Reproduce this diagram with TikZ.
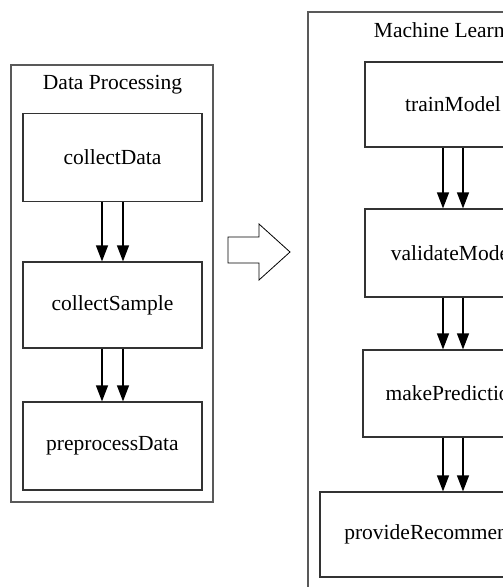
\documentclass[tikz,border=0pt]{standalone}
\usepackage{fontspec}
\setmainfont{Liberation Serif}
\usetikzlibrary{arrows.meta}

\tikzset{
  stepbox/.style={draw=black!80, line width=1.2pt, minimum width=179pt, minimum height=88pt,
    font=\fontsize{21.5}{26}\selectfont},
  group/.style={draw=black!65, line width=1.6pt},
  grouptitle/.style={font=\fontsize{21.5}{26}\selectfont},
  flow/.style={line width=1.2pt, -{Triangle[length=16pt,width=12pt]}}
}

\begin{document}
\begin{tikzpicture}[x=1pt,y=-1pt]
\useasboundingbox (0,0) rectangle (503,587);
\clip (0,0) rectangle (503,587);
\fill[white] (0,0) rectangle (503,587);

% data processing
\draw[group] (11,65) rectangle (213,502);
\node[grouptitle] (dptitle) at (112.5,85) {Data Processing};
\node[stepbox] (collect) at (112.5,157.5) {collectData};
\node[stepbox, minimum height=86pt] (sample) at (112.5,305) {collectSample};
\node[stepbox] (prep) at (112.5,446) {preprocessData};
\foreach \s in {-10.5,10.5} {
  \draw[flow] ([xshift=\s pt]collect.south) -- ([xshift=\s pt]sample.north);
  \draw[flow] ([xshift=\s pt]sample.south) -- ([xshift=\s pt]prep.north);
}

% hollow arrow between the two groups
\draw[line width=0.8pt, fill=white] (228,237) -- (259,237) -- (259,224) -- (290,252)
  -- (259,280) -- (259,263) -- (228,263) -- cycle;

% machine learning
\draw[group] (308,12) rectangle (598,620);
\node[grouptitle] (mltitle) at (453,32) {Machine Learning};
\node[stepbox, minimum width=176pt, minimum height=85pt] (train) at (453,104.5) {trainModel};
\node[stepbox, minimum width=176pt] (valid) at (453,253) {validateModel};
\node[stepbox, minimum width=180pt, minimum height=87pt] (predict) at (453,393.5) {makePrediction};
\node[stepbox, minimum width=266pt, minimum height=85pt] (recommend) at (453,534.5) {provideRecommendation};
\foreach \s in {-10,10} {
  \draw[flow] ([xshift=\s pt]train.south) -- ([xshift=\s pt]valid.north);
  \draw[flow] ([xshift=\s pt]valid.south) -- ([xshift=\s pt]predict.north);
  \draw[flow] ([xshift=\s pt]predict.south) -- ([xshift=\s pt]recommend.north);
}
\end{tikzpicture}
\end{document}
